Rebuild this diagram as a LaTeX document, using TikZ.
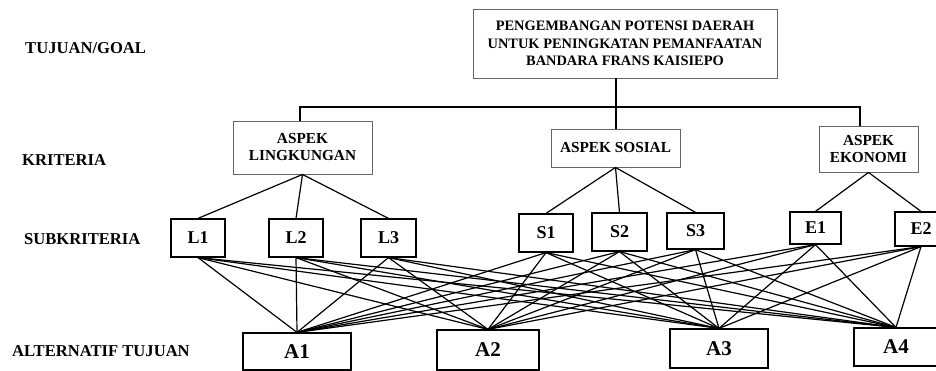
\documentclass[tikz,border=0pt]{standalone}
\usepackage{fontspec}
\setmainfont{Liberation Serif}
\begin{document}
\begin{tikzpicture}[x=1pt,y=-1pt,
  topbox/.style={draw=black!60, line width=0.9pt, inner sep=0pt, align=center},
  subbox/.style={draw=black, line width=1.2pt, inner sep=0pt, font=\bfseries\fontsize{18}{20}\selectfont},
  altbox/.style={draw=black, line width=1.2pt, inner sep=0pt, font=\bfseries\fontsize{21}{23}\selectfont},
  lbl/.style={anchor=west, inner sep=0pt, font=\bfseries\fontsize{16.6}{19}\selectfont},
  conn/.style={line width=1.2pt, black}]
\useasboundingbox (0,0) rectangle (936,371);
\clip (0,0) rectangle (936,371);
% level labels
\node[lbl] (lgoal) at (25,48) {TUJUAN/GOAL};
\node[lbl] (lkrit) at (22,160) {KRITERIA};
\node[lbl] (lsub) at (24,239) {SUBKRITERIA};
\node[lbl] (lalt) at (12,351) {ALTERNATIF TUJUAN};
% goal and criteria
\node[topbox, minimum width=304pt, minimum height=69pt, font=\bfseries\fontsize{14.4}{17.5}\selectfont] (goal) at (625,43.5)
  {PENGEMBANGAN POTENSI DAERAH\\UNTUK PENINGKATAN PEMANFAATAN\\BANDARA FRANS KAISIEPO};
\node[topbox, minimum width=139pt, minimum height=53pt, font=\bfseries\fontsize{15.3}{17}\selectfont] (ling) at (302.5,147.5) {ASPEK\\LINGKUNGAN};
\node[topbox, minimum width=129pt, minimum height=38pt, font=\bfseries\fontsize{15.3}{17}\selectfont] (sos) at (615.5,148) {ASPEK SOSIAL};
\node[topbox, minimum width=99pt, minimum height=46pt, font=\bfseries\fontsize{15.3}{17}\selectfont] (eko) at (868.5,149) {ASPEK\\EKONOMI};
\coordinate (j) at (616,107);
\coordinate (jl) at (300,107);
\coordinate (je) at (860,107);
\draw[conn] (j |- goal.south) -- (j) -- (j |- sos.north);
\draw[conn] (jl |- ling.north) -- (jl) -- (je) -- (je |- eko.north);
% subcriteria
\node[subbox, minimum width=54pt, minimum height=38pt] (L1) at (198,238) {L1};
\node[subbox, minimum width=54pt, minimum height=38pt] (L2) at (296,238) {L2};
\node[subbox, minimum width=55pt, minimum height=38pt] (L3) at (388.5,238) {L3};
\node[subbox, minimum width=54pt, minimum height=38pt] (S1) at (546,233) {S1};
\node[subbox, minimum width=55pt, minimum height=38pt] (S2) at (619.5,232) {S2};
\node[subbox, minimum width=57pt, minimum height=36pt] (S3) at (695.5,231) {S3};
\node[subbox, minimum width=51pt, minimum height=32pt] (E1) at (815.5,228) {E1};
\node[subbox, minimum width=52pt, minimum height=34pt] (E2) at (921,229) {E2};
% alternatives
\node[altbox, minimum width=108pt, minimum height=37pt] (A1) at (297,351.5) {A1};
\node[altbox, minimum width=102pt, minimum height=40pt] (A2) at (488,350) {A2};
\node[altbox, minimum width=98pt, minimum height=39pt] (A3) at (719,348.5) {A3};
\node[altbox, minimum width=84pt, minimum height=38pt] (A4) at (896,347) {A4};
% criteria to subcriteria
\foreach \s in {L1,L2,L3} \draw[conn] (ling.south) -- (\s.north);
\foreach \s in {S1,S2,S3} \draw[conn] (sos.south) -- (\s.north);
\foreach \s in {E1,E2} \draw[conn] (eko.south) -- (\s.north);
% subcriteria to alternatives
\foreach \s in {L1,L2,L3,S1,S2,S3,E1,E2}
  \foreach \a in {A1,A2,A3,A4}
    \draw[conn] (\s.south) -- (\a.north);
\end{tikzpicture}
\end{document}
